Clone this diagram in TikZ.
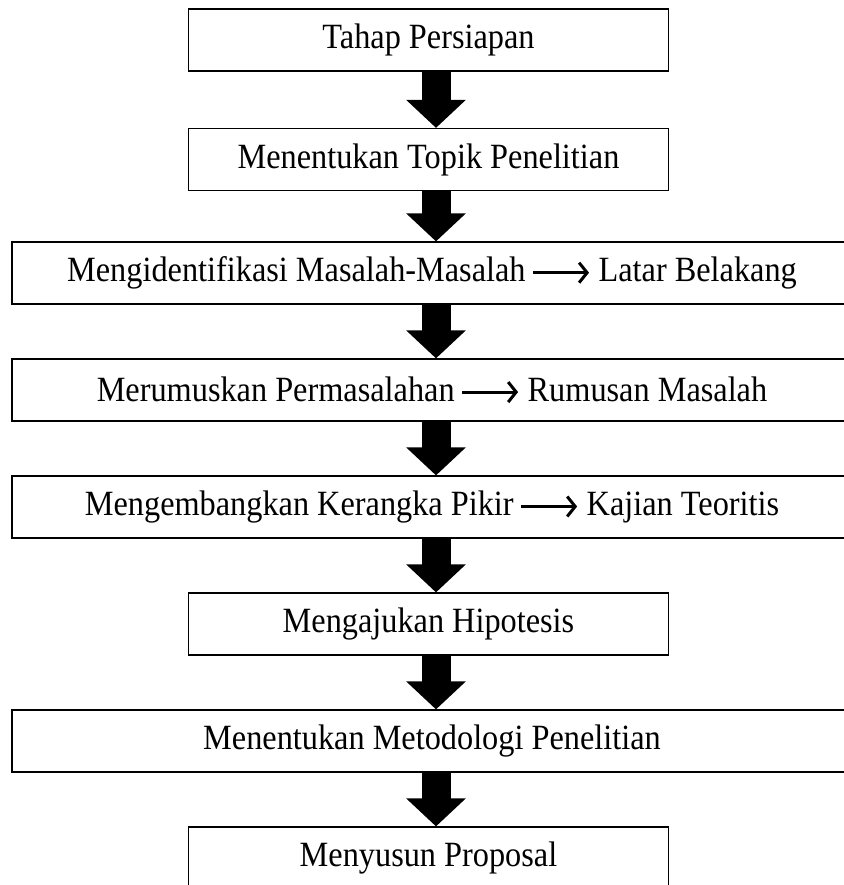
\documentclass[tikz,border=0pt]{standalone}
\usepackage{fontspec}
\setmainfont{Liberation Serif}
\newfontfamily\stagefont[FakeStretch=0.91]{Liberation Serif}
\usetikzlibrary{arrows.meta}
\tikzset{
  stage/.style={draw, line width=1.2pt, minimum width=480pt, minimum height=62pt, inner sep=0pt, font=\stagefont\fontsize{35.5}{40}\selectfont},
  widestage/.style={stage, minimum width=840pt},
  bigarrow/.style={line width=29pt, -{Triangle[width=58pt,length=28pt]}}
}
\newcommand{\textto}{\tikz[x=1pt,y=1pt,baseline=-9pt]\draw[line width=3pt,-{Straight Barb[length=8pt,width=20pt,line width=3pt]}] (0,0) -- (56,0);}
\begin{document}
\begin{tikzpicture}[x=1pt,y=-1pt]
\useasboundingbox (0,0) rectangle (843,885);
\coordinate (axis) at (436,0);
\node[stage] (persiapan) at (428.5,40) {Tahap Persiapan};
\node[stage] (topik) at (428.5,159.5) {Menentukan Topik Penelitian};
\node[widestage] (identifikasi) at (432,273) {Mengidentifikasi Masalah-Masalah\,\textto\ Latar Belakang};
\node[widestage] (rumusan) at (432,390) {Merumuskan Permasalahan\,\textto\ Rumusan Masalah};
\node[widestage] (kerangka) at (432,507) {Mengembangkan Kerangka Pikir\,\textto\ Kajian Teoritis};
\node[stage] (hipotesis) at (428.5,624) {Mengajukan Hipotesis};
\node[widestage] (metodologi) at (432,741) {Menentukan Metodologi Penelitian};
\node[stage] (proposal) at (428.5,858) {Menyusun Proposal};
% block arrows
\foreach \a/\b in {persiapan/topik, topik/identifikasi, identifikasi/rumusan, rumusan/kerangka, kerangka/hipotesis, hipotesis/metodologi, metodologi/proposal}
  \draw[bigarrow] (\a.south -| axis) -- (\b.north -| axis);
\end{tikzpicture}
\end{document}
